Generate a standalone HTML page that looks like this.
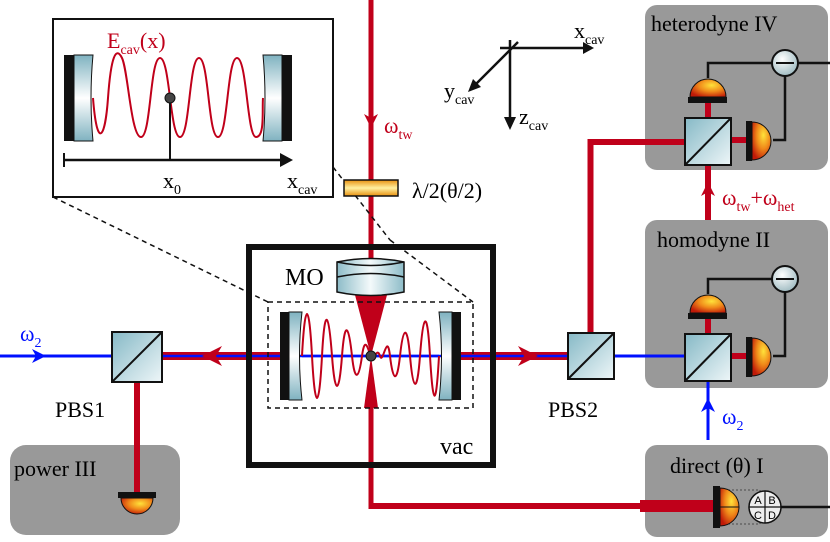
<!DOCTYPE html>
<html><head><meta charset="utf-8"><style>
html,body{margin:0;padding:0;background:#fff;font-family:"Liberation Serif",serif}
svg{display:block}
</style></head><body>
<svg width="830" height="542" viewBox="0 0 830 542" xmlns="http://www.w3.org/2000/svg" font-family="'Liberation Serif', serif">
<defs>
<linearGradient id="glassV" x1="0" y1="0" x2="0" y2="1"><stop offset="0" stop-color="#7fb2c0"/><stop offset="0.5" stop-color="#ffffff"/><stop offset="1" stop-color="#7fb2c0"/></linearGradient>
<linearGradient id="glassH" x1="0" y1="0" x2="1" y2="0"><stop offset="0" stop-color="#8dbcc8"/><stop offset="0.5" stop-color="#f4fafb"/><stop offset="1" stop-color="#8dbcc8"/></linearGradient>
<linearGradient id="cube" x1="0" y1="0" x2="1" y2="1"><stop offset="0" stop-color="#86b9c6"/><stop offset="1" stop-color="#eef6f8"/></linearGradient>
<radialGradient id="det" cx="0.6" cy="0.35" r="0.7"><stop offset="0" stop-color="#ffe23a"/><stop offset="0.5" stop-color="#f08a1a"/><stop offset="1" stop-color="#c01a08"/></radialGradient>
<linearGradient id="wp" x1="0" y1="0" x2="0" y2="1"><stop offset="0" stop-color="#e8900f"/><stop offset="0.5" stop-color="#fff0a0"/><stop offset="1" stop-color="#e8900f"/></linearGradient>
<radialGradient id="sub" cx="0.4" cy="0.35" r="0.7"><stop offset="0" stop-color="#ffffff"/><stop offset="1" stop-color="#9bb8bf"/></radialGradient>
</defs>

<rect x="645" y="5" width="183" height="165" rx="12" fill="#999"/>
<rect x="645" y="220" width="183" height="168" rx="12" fill="#999"/>
<rect x="645" y="445" width="183" height="92" rx="12" fill="#999"/>
<rect x="10" y="445" width="170" height="90" rx="16" fill="#999"/>

<rect x="368.5" y="0" width="5" height="258" fill="#c0001a"/>
<path d="M364 114 L371 128 L378 114 L371 118Z" fill="#c0001a"/>
<rect x="368.5" y="400" width="5" height="108" fill="#c0001a"/>
<rect x="368.5" y="503" width="346" height="6" fill="#c0001a"/>
<rect x="640" y="500" width="74" height="12" fill="#c0001a"/>
<path d="M355 295 L387 295 L371 356Z" fill="#c0001a"/>
<path d="M371 356 L364 408 L378 408Z" fill="#c0001a"/>

<line x1="0" y1="356" x2="112" y2="356" stroke="#0010ff" stroke-width="3"/>
<path d="M32 349 L46 356 L32 363 L36 356Z" fill="#0010ff"/>
<rect x="162" y="352" width="120" height="8" fill="#c0001a"/>
<rect x="461" y="352" width="107" height="8" fill="#c0001a"/>
<line x1="162" y1="356" x2="568" y2="356" stroke="#0010ff" stroke-width="2.5"/>
<path d="M222 346 L202 356 L222 366 L216 356Z" fill="#c0001a"/>
<path d="M518 346 L538 356 L518 366 L524 356Z" fill="#c0001a"/>
<line x1="613" y1="356" x2="684" y2="356" stroke="#0010ff" stroke-width="3"/>
<rect x="134" y="382" width="6" height="111" fill="#c0001a"/>
<path d="M590.5 335 L590.5 142 L684 142" fill="none" stroke="#c0001a" stroke-width="6"/>
<rect x="705" y="166" width="6" height="54" fill="#c0001a"/>
<path d="M701 196 L708 182 L715 196 L708 192Z" fill="#c0001a"/>
<line x1="708" y1="378" x2="708" y2="440" stroke="#0010ff" stroke-width="3"/>
<path d="M701 412 L708 398 L715 412 L708 408Z" fill="#0010ff"/>

<g stroke="#111" stroke-width="2">
<rect x="112" y="332" width="50" height="50" fill="url(#cube)"/><line x1="112" y1="382" x2="162" y2="332"/>
<rect x="568" y="333" width="46" height="46" fill="url(#cube)"/><line x1="568" y1="379" x2="614" y2="333"/>
</g>
<text x="55" y="417" font-size="22">PBS1</text>
<text x="548" y="417" font-size="22">PBS2</text>
<text x="20" y="341" font-size="22" fill="#0010ff">ω<tspan font-size="14" dy="6">2</tspan></text>

<g>
<rect x="705" y="102" width="6" height="15" fill="#c0001a"/>
<rect x="731" y="137" width="16" height="6" fill="#c0001a"/>
<path d="M708 78 L708 63 L772 63 M798 63 L830 63 M785 75 L785 140 L773 140" fill="none" stroke="#111" stroke-width="2.5"/>
<path d="M690 97 A18 18 0 0 1 726 97Z" fill="url(#det)" stroke="#111" stroke-width="1"/>
<rect x="688" y="97" width="39" height="6" fill="#111"/>
<path d="M752 122 A18 18 0 0 1 752 160Z" fill="url(#det)" stroke="#111" stroke-width="1"/>
<rect x="746" y="121" width="6" height="40" fill="#111"/>
<circle cx="785" cy="63" r="13" fill="url(#sub)" stroke="#111" stroke-width="2"/>
<line x1="776" y1="63" x2="794" y2="63" stroke="#111" stroke-width="2"/>
<rect x="685" y="118" width="46" height="47" fill="url(#cube)" stroke="#111" stroke-width="2"/>
<line x1="685" y1="165" x2="731" y2="118" stroke="#111" stroke-width="2"/>
</g>
<text x="651" y="31" font-size="22">heterodyne IV</text>
<text x="722" y="205" font-size="22" fill="#c0001a">ω<tspan font-size="14" dy="6">tw</tspan><tspan dy="-6">+ω</tspan><tspan font-size="14" dy="6">het</tspan></text>

<g transform="translate(0,216)">
<rect x="705" y="102" width="6" height="15" fill="#c0001a"/>
<rect x="731" y="137" width="16" height="6" fill="#c0001a"/>
<path d="M708 78 L708 63 L772 63 M785 75 L785 140 L773 140" fill="none" stroke="#111" stroke-width="2.5"/>
<path d="M690 97 A18 18 0 0 1 726 97Z" fill="url(#det)" stroke="#111" stroke-width="1"/>
<rect x="688" y="97" width="39" height="6" fill="#111"/>
<path d="M752 122 A18 18 0 0 1 752 160Z" fill="url(#det)" stroke="#111" stroke-width="1"/>
<rect x="746" y="121" width="6" height="40" fill="#111"/>
<circle cx="785" cy="63" r="13" fill="url(#sub)" stroke="#111" stroke-width="2"/>
<line x1="776" y1="63" x2="794" y2="63" stroke="#111" stroke-width="2"/>
<rect x="685" y="118" width="46" height="47" fill="url(#cube)" stroke="#111" stroke-width="2"/>
<line x1="685" y1="165" x2="731" y2="118" stroke="#111" stroke-width="2"/>
</g>
<text x="657" y="247" font-size="22">homodyne II</text>
<text x="722" y="424" font-size="22" fill="#0010ff">ω<tspan font-size="14" dy="6">2</tspan></text>

<text x="670" y="473" font-size="22">direct (θ) I</text>
<rect x="720" y="490" width="40" height="34" fill="none" stroke="#333" stroke-width="0.8" stroke-dasharray="2,2"/>
<path d="M720 488 A19 19 0 0 1 720 526Z" fill="url(#det)" stroke="#111" stroke-width="1"/>
<line x1="720" y1="507" x2="739" y2="507" stroke="#111" stroke-width="1"/>
<rect x="713" y="486" width="7" height="42" fill="#111"/>
<line x1="781" y1="507" x2="830" y2="507" stroke="#111" stroke-width="2.5"/>
<circle cx="765" cy="507" r="16" fill="#eee" stroke="#111" stroke-width="1.5"/>
<line x1="749" y1="507" x2="781" y2="507" stroke="#111" stroke-width="1.2"/>
<line x1="765" y1="491" x2="765" y2="523" stroke="#111" stroke-width="1.2"/>
<g font-size="11" text-anchor="middle" font-family="'Liberation Sans', sans-serif">
<text x="758" y="504">A</text><text x="772" y="504">B</text><text x="758" y="519">C</text><text x="772" y="519">D</text></g>

<text x="14" y="476" font-size="22">power III</text>
<rect x="118" y="492" width="38" height="6" fill="#111"/>
<path d="M121 498 A16 16 0 0 0 153 498Z" fill="url(#det)" stroke="#111" stroke-width="1"/>

<rect x="249" y="247" width="244" height="218" fill="none" stroke="#111" stroke-width="6"/>
<text x="440" y="454" font-size="24">vac</text>
<text x="285" y="285" font-size="24">MO</text>
<path d="M337 262 Q371 255 404 262 L404 292 Q371 299 337 292Z" fill="url(#glassH)" stroke="#111" stroke-width="1.5"/>
<path d="M337 277 Q371 270 404 277" fill="none" stroke="#111" stroke-width="1.5"/>
<path d="M337 262 Q371 269 404 262" fill="none" stroke="#111" stroke-width="1.5"/>
<rect x="268" y="302" width="205" height="106" fill="none" stroke="#111" stroke-width="1.5" stroke-dasharray="5,4"/>
<line x1="53" y1="197" x2="268" y2="302" stroke="#111" stroke-width="1.5" stroke-dasharray="5,4"/>
<line x1="390" y1="240" x2="473" y2="302" stroke="#111" stroke-width="1.5" stroke-dasharray="5,4"/>
<line x1="333" y1="167" x2="390" y2="240" stroke="#111" stroke-width="1.5" stroke-dasharray="5,4"/>
<rect x="280" y="312" width="9" height="88" fill="#111"/>
<path d="M289 312 L302 312 Q297 356 302 400 L289 400Z" fill="url(#glassV)" stroke="#111" stroke-width="1"/>
<rect x="452" y="312" width="9" height="88" fill="#111"/>
<path d="M452 312 L439 312 Q444 356 439 400 L452 400Z" fill="url(#glassV)" stroke="#111" stroke-width="1"/>
<line x1="302" y1="356" x2="439" y2="356" stroke="#0010ff" stroke-width="2.5"/>
<path fill="none" stroke="#c0001a" stroke-width="2" d="M302 356 C305 300 309 300 312 356 S319 412 322 356 S329 316 332 356 S339 396 342 356 S349 328 352 356 S359 378 362 356 S368 350 371 356 S377 346 380 356 S387 330 390 356 S397 384 400 356 S407 322 410 356 S417 396 420 356 S427 304 430 356 S436 410 439 356"/>
<circle cx="371" cy="356" r="5" fill="#444" stroke="#111" stroke-width="1"/>

<rect x="344" y="180" width="54" height="16" fill="url(#wp)" stroke="#111" stroke-width="1.5"/>
<text x="412" y="198" font-size="22">λ/2(θ/2)</text>
<text x="384" y="133" font-size="22" fill="#c0001a">ω<tspan font-size="14" dy="6">tw</tspan></text>

<g stroke="#111" stroke-width="2.5" fill="#111">
<line x1="500" y1="48" x2="585" y2="48"/><path d="M583 42 L594 48 L583 54Z" stroke="none"/>
<line x1="510" y1="40" x2="510" y2="120"/><path d="M504 117 L510 130 L516 117Z" stroke="none"/>
<line x1="518" y1="42" x2="474" y2="86"/><path d="M468 92 L473 79 L481 87Z" stroke="none"/>
</g>
<text x="574" y="38" font-size="22">x<tspan font-size="14" dy="6">cav</tspan></text>
<text x="444" y="98" font-size="22">y<tspan font-size="14" dy="6">cav</tspan></text>
<text x="519" y="124" font-size="22">z<tspan font-size="14" dy="6">cav</tspan></text>

<rect x="53" y="19" width="280" height="178" fill="#fff" stroke="#111" stroke-width="2"/>
<rect x="64" y="55" width="10" height="86" fill="#111"/>
<path d="M74 55 L93 55 Q89 98 93 141 L74 141Z" fill="url(#glassV)" stroke="#111" stroke-width="1"/>
<rect x="282" y="55" width="10" height="86" fill="#111"/>
<path d="M282 55 L263 55 Q267 98 263 141 L282 141Z" fill="url(#glassV)" stroke="#111" stroke-width="1"/>
<path fill="none" stroke="#c0001a" stroke-width="2" d="M93 98 C97 150 105 140 108 98 S116 46 122 58 S131 137 141 137 S150 58 160 58 S170 137 180 137 S189 58 199 58 S208 137 218 137 S227 58 237 58 S247 137 256 137 S262 110 263 98"/>
<line x1="64" y1="160" x2="285" y2="160" stroke="#111" stroke-width="2.5"/>
<line x1="64" y1="153" x2="64" y2="167" stroke="#111" stroke-width="2"/>
<path d="M280 153 L293 160 L280 167Z" fill="#111"/>
<line x1="170" y1="98" x2="170" y2="160" stroke="#111" stroke-width="2"/>
<circle cx="170" cy="98" r="5" fill="#444" stroke="#111" stroke-width="1"/>
<text x="107" y="48" font-size="22" fill="#c0001a">E<tspan font-size="14" dy="6">cav</tspan><tspan dy="-6">(x)</tspan></text>
<text x="163" y="188" font-size="22">x<tspan font-size="14" dy="6">0</tspan></text>
<text x="287" y="188" font-size="22">x<tspan font-size="14" dy="6">cav</tspan></text>
</svg>
</body></html>
